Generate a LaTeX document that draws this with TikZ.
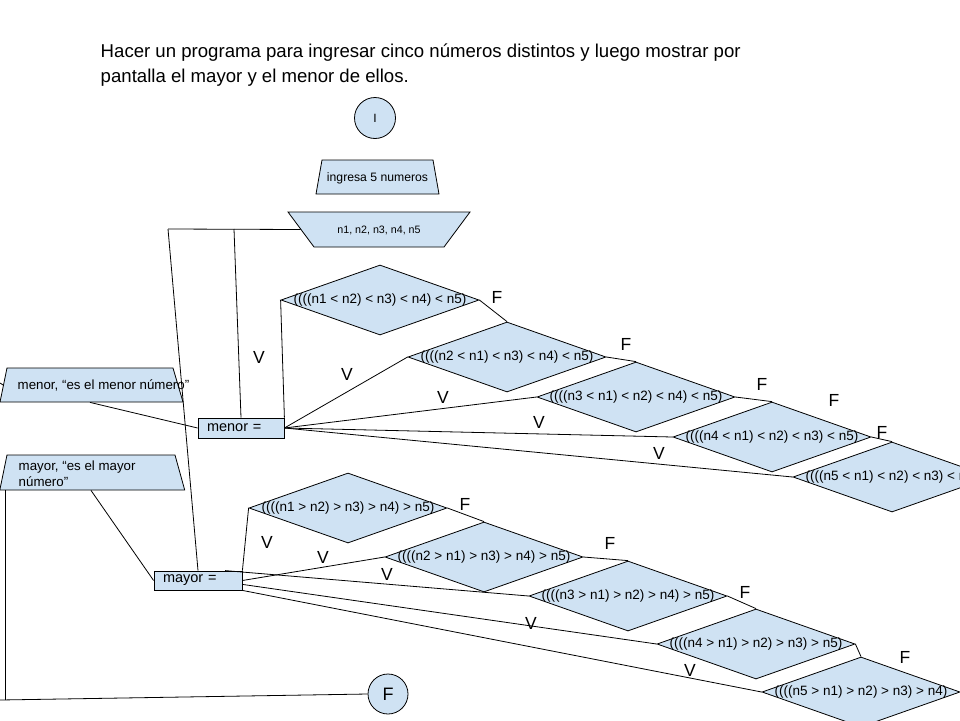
\documentclass[tikz,border=0pt]{standalone}
\usepackage{fontspec}
\setmainfont{Liberation Sans}
\usetikzlibrary{shapes.geometric}
\definecolor{celeste}{HTML}{CFE2F3}

\begin{document}
\begin{tikzpicture}[x=1pt,y=-1pt,line width=0.8pt,
    cond/.style={diamond,draw,fill=celeste,minimum width=198pt,minimum height=70pt,
      inner sep=0pt,font=\fontsize{13.5}{16}\selectfont},
    caja/.style={rectangle,draw,fill=celeste,minimum height=20pt,inner xsep=9pt,
      inner ysep=0pt,align=left,font=\fontsize{14.5}{17}\selectfont},
    borne/.style={circle,draw,fill=celeste,minimum size=41pt,inner sep=0pt},
    dato/.style={trapezium,draw,fill=celeste,inner ysep=0pt,minimum width=1pt,minimum height=1pt},
    texto/.style={anchor=west,align=left,font=\fontsize{13.3}{16}\selectfont},
    rot/.style={font=\fontsize{17.5}{20}\selectfont}]
    \useasboundingbox (0,0) rectangle (960,720);
    \fill[white] (0,0) rectangle (960,720);
    \clip (0,0) rectangle (960,720);

    % Enunciado
    \node[anchor=north west,align=left,font=\fontsize{18.6}{25}\selectfont] (titulo) at (97,40)
      {Hacer un programa para ingresar cinco números distintos y luego mostrar por\\
       pantalla el mayor y el menor de ellos.};

    % Inicio, lectura
    \node[borne,font=\fontsize{12}{14}\selectfont] (ini) at (375,118) {I};
    \node[dato,trapezium left angle=80,trapezium right angle=80,inner xsep=55.5pt,
      text height=21.4pt,text depth=12.6pt,font=\fontsize{12.2}{14}\selectfont] (msg) at (377.5,177)
      {\makebox[0pt]{ingresa 5 numeros}};
    \node[dato,trapezium left angle=126.6,trapezium right angle=126.6,inner xsep=65pt,
      text height=21.3pt,text depth=13.7pt,font=\fontsize{10.7}{13}\selectfont] (leer) at (379,229.5)
      {\makebox[0pt]{n1, n2, n3, n4, n5}};

    % Asignaciones
    \node[caja,minimum width=86pt,text width=68pt] (menor) at (241,428) {menor =};
    \node[caja,minimum width=88pt,text width=70pt,minimum height=19pt] (mayor) at (198,580.5) {mayor =};

    % Salidas
    \node[dato,trapezium left angle=78.4,trapezium right angle=73.6,inner xsep=83pt,
      text height=17pt,text depth=17pt] (smenor) at (90,385) {};
    \node[texto] (tmenor) at (14,385) {menor, “es el menor número”};
    \node[dato,trapezium left angle=78.4,trapezium right angle=74.5,inner xsep=84pt,
      text height=17.5pt,text depth=17.5pt] (smayor) at (91,472.5) {};
    \node[texto] (tmayor) at (15,474) {mayor, “es el mayor\\número”};

    % Fin
    \node[borne,minimum size=40pt,font=\fontsize{18}{20}\selectfont] (fin) at (388,694) {F};

    % Condiciones del menor
    \node[cond] (d1) at (380,300) {\makebox[0pt]{((((n1 < n2) < n3) < n4) < n5)}};
    \node[cond] (d2) at (507,357) {\makebox[0pt]{((((n2 < n1) < n3) < n4) < n5)}};
    \node[cond] (d3) at (636,397) {\makebox[0pt]{((((n3 < n1) < n2) < n4) < n5)}};
    \node[cond] (d4) at (772,437) {\makebox[0pt]{((((n4 < n1) < n2) < n3) < n5)}};
    \node[cond] (d5) at (892,477) {\makebox[0pt]{((((n5 < n1) < n2) < n3) < n4)}};

    % Condiciones del mayor
    \node[cond] (m1) at (348,508) {\makebox[0pt]{((((n1 > n2) > n3) > n4) > n5)}};
    \node[cond] (m2) at (484,557) {\makebox[0pt]{((((n2 > n1) > n3) > n4) > n5)}};
    \node[cond] (m3) at (628,596) {\makebox[0pt]{((((n3 > n1) > n2) > n4) > n5)}};
    \node[cond] (m4) at (756,644) {\makebox[0pt]{((((n4 > n1) > n2) > n3) > n5)}};
    \node[cond] (m5) at (861,692) {\makebox[0pt]{((((n5 > n1) > n2) > n3) > n4)}};

    % Lineas desde la lectura
    \coordinate (c1) at (168,229);
    \coordinate (c2) at (234,229);
    \draw (c1) -- (leer.west);
    \draw (c2) -- (menor.north);
    \draw (c1) -- (mayor.north);

    % Salidas
    \coordinate (borde) at (0,383);
    \draw (smenor.west) -- (borde);
    \draw (smenor.south) -- (menor.west);
    \draw (smayor.south) -- (mayor.west);
    \coordinate (esq) at (5,700);
    \coordinate (pie) at (0,700);
    \draw (smayor.south -| esq) -- (esq);
    \draw (pie) -- (fin.west);

    % Ramas V del menor
    \draw (menor.north east) -- (d1.west);
    \draw (menor.east) -- (d2.west);
    \draw (menor.east) -- (d3.west);
    \draw (menor.east) -- (d4.west);
    \draw (menor.east) -- (d5.west);

    % Ramas F del menor
    \draw (d1.east) -- (d2.north);
    \draw (d2.east) -- (d3.north);
    \draw (d3.east) -- (d4.north);
    \draw (d4.east) -- (d5.north);

    % Ramas V del mayor
    \draw (mayor.north east) -- (m1.west);
    \draw (mayor.east) -- (m2.west);
    \draw (mayor.20) -- (m3.west);
    \draw (mayor.-5) -- (m4.west);
    \draw (mayor.south east) -- (m5.west);

    % Ramas F del mayor
    \draw (m1.east) -- (m2.north);
    \draw (m2.east) -- (m3.north);
    \draw (m3.east) -- (m4.north);
    \draw (m4.east) -- (m5.north);

    % Rotulos
    \node[rot] (v1) at (259,357) {V};
    \node[rot] (v2) at (347,374) {V};
    \node[rot] (v3) at (443,397) {V};
    \node[rot] (v4) at (539,422) {V};
    \node[rot] (v5) at (659,453) {V};
    \node[rot] (f1) at (497,297) {F};
    \node[rot] (f2) at (626,344) {F};
    \node[rot] (f3) at (762,384) {F};
    \node[rot] (f4) at (834,400) {F};
    \node[rot] (f5) at (882,432) {F};
    \node[rot] (v6) at (267,542) {V};
    \node[rot] (v7) at (323,557) {V};
    \node[rot] (v8) at (387,574) {V};
    \node[rot] (v9) at (531,623) {V};
    \node[rot] (v10) at (690,670) {V};
    \node[rot] (f6) at (465,504) {F};
    \node[rot] (f7) at (610,543) {F};
    \node[rot] (f8) at (745,592) {F};
    \node[rot] (f9) at (905,657) {F};
\end{tikzpicture}
\end{document}
